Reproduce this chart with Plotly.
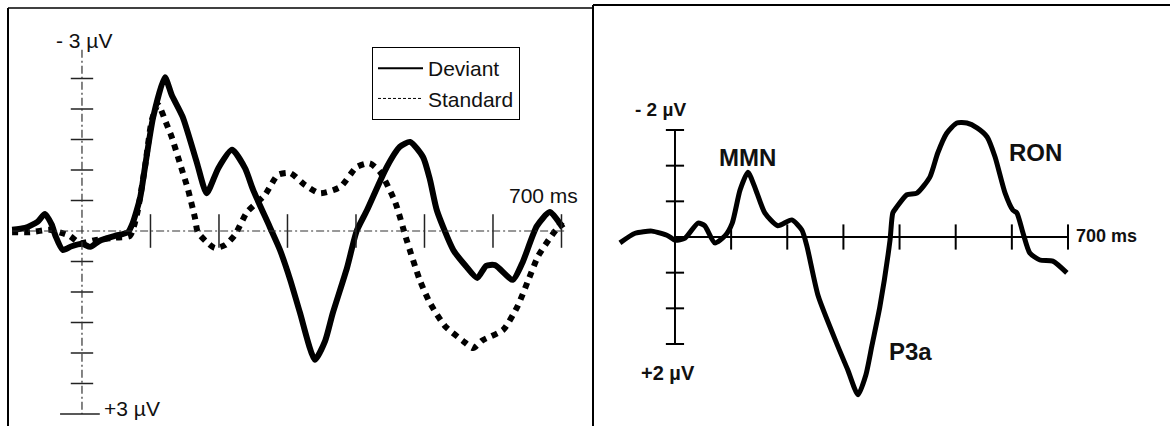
import plotly.graph_objects as go

# ---------------- data (time in ms, amplitude in µV; negative plotted upward) ----------------
dev_t = [-102, -83, -65, -54, -44, -39, -28, -15, 0, 12, 26, 48, 67, 74, 85, 92, 104, 121, 131, 147,
         168, 182, 199, 219, 238, 250, 274, 289, 304, 318, 340, 355, 366, 387, 401, 416, 445, 464, 479,
         498, 508, 518, 542, 560, 577, 590, 603, 629, 643, 664, 683, 702]
dev_v = [-0.02, -0.05, -0.15, -0.28, -0.10, 0.07, 0.31, 0.25, 0.21, 0.26, 0.16, 0.08, 0.02, -0.13, -0.55,
         -1.05, -1.87, -2.52, -2.23, -1.87, -1.11, -0.62, -1.03, -1.33, -1.03, -0.67, -0.07, 0.31, 0.80,
         1.33, 2.11, 1.80, 1.35, 0.60, 0.00, -0.34, -1.05, -1.38, -1.46, -1.21, -0.84, -0.34, 0.31, 0.57,
         0.77, 0.57, 0.56, 0.80, 0.52, -0.08, -0.31, -0.05]

std_t = [-102, -76, -47, -30, -18, -3, 19, 48, 70, 80, 92, 102, 111, 124, 131, 143, 155, 165, 169, 182,
         194, 209, 223, 241, 267, 286, 304, 326, 347, 377, 401, 420, 435, 457, 474, 493, 508, 530, 556,
         571, 585, 615, 636, 651, 666, 686, 701]
std_v = [0.02, 0.02, -0.02, 0.03, 0.08, 0.20, 0.15, 0.11, 0.08, -0.26, -1.05, -1.82, -2.07, -1.74, -1.54,
         -1.11, -0.67, -0.21, 0.02, 0.18, 0.28, 0.23, 0.07, -0.31, -0.59, -0.92, -0.95, -0.75, -0.62, -0.72,
         -1.05, -1.11, -0.97, -0.48, 0.15, 0.80, 1.18, 1.56, 1.80, 1.92, 1.79, 1.62, 1.23, 0.82, 0.41, 0.07,
         -0.15]

diff_t = [-98, -71, -41, -12, 0, 18, 41, 53, 71, 89, 102, 116, 130, 144, 160, 183, 208, 226, 235, 255,
          290, 308, 326, 340, 351, 365, 383, 388, 395, 413, 431, 454, 468, 484, 502, 520, 538, 556, 570,
          588, 602, 609, 620, 632, 650, 673, 698]
diff_v = [0.11, -0.07, -0.11, -0.02, 0.06, 0.02, -0.26, -0.21, 0.11, -0.02, -0.26, -0.88, -1.21, -0.88,
          -0.45, -0.21, -0.32, -0.13, 0.17, 1.10, 2.04, 2.49, 2.95, 2.58, 2.02, 1.30, 0.06, -0.45, -0.56,
          -0.79, -0.82, -1.12, -1.57, -1.94, -2.13, -2.13, -2.04, -1.87, -1.50, -0.82, -0.50, -0.45, -0.07,
          0.30, 0.43, 0.45, 0.67]

left_xticks = [100, 200, 300, 400, 500, 600, 700]
left_yticks = [-2.5, -2.0, -1.5, -1.0, -0.5, 0.5, 1.0, 1.5, 2.0, 2.5]
right_xticks = [100, 200, 300, 400, 500, 600, 700]
right_yticks = [-2.0, -4 / 3, -2 / 3, 2 / 3, 4 / 3, 2.0]

W, H = 1170, 426
FONT = "Liberation Sans, Arial, sans-serif"


def px(x):
    return x / W


def py(y):
    return 1 - y / H


fig = go.Figure()

# ---- left panel ----
fig.add_trace(go.Scatter(x=dev_t, y=dev_v, mode="lines", line=dict(color="black", width=6, shape="spline", smoothing=0.6),
                         showlegend=False, xaxis="x", yaxis="y", hoverinfo="skip"))
fig.add_trace(go.Scatter(x=std_t, y=std_v, mode="lines", line=dict(color="black", width=6, dash="6px,6px", shape="spline", smoothing=0.6),
                         showlegend=False, xaxis="x", yaxis="y", hoverinfo="skip"))
# legend entries (thin samples as in the original)
fig.add_trace(go.Scatter(x=[None], y=[None], mode="lines", name="Deviant", line=dict(color="black", width=2),
                         xaxis="x", yaxis="y"))
fig.add_trace(go.Scatter(x=[None], y=[None], mode="lines", name="Standard", line=dict(color="black", width=1, dash="3px,2px"),
                         xaxis="x", yaxis="y"))
# ticks
fig.add_trace(go.Scatter(x=left_xticks, y=[0] * len(left_xticks), mode="markers",
                         marker=dict(symbol="line-ns", size=24, line=dict(width=1.5, color="#222")),
                         showlegend=False, xaxis="x", yaxis="y", hoverinfo="skip"))
fig.add_trace(go.Scatter(x=[0] * len(left_yticks), y=left_yticks, mode="markers",
                         marker=dict(symbol="line-ew", size=16, line=dict(width=1.5, color="#222")),
                         showlegend=False, xaxis="x", yaxis="y", hoverinfo="skip"))

# ---- right panel ----
fig.add_trace(go.Scatter(x=diff_t, y=diff_v, mode="lines", line=dict(color="black", width=5, shape="spline", smoothing=0.6),
                         showlegend=False, xaxis="x2", yaxis="y2", hoverinfo="skip"))
fig.add_trace(go.Scatter(x=right_xticks, y=[0] * len(right_xticks), mode="markers",
                         marker=dict(symbol="line-ns", size=18, line=dict(width=2, color="black")),
                         showlegend=False, xaxis="x2", yaxis="y2", hoverinfo="skip"))
fig.add_trace(go.Scatter(x=[0] * len(right_yticks), y=right_yticks, mode="markers",
                         marker=dict(symbol="line-ew", size=13, line=dict(width=2, color="black")),
                         showlegend=False, xaxis="x2", yaxis="y2", hoverinfo="skip"))

shapes = [
    # panel frames
    dict(type="line", xref="paper", yref="paper", x0=px(8), x1=px(8), y0=py(8), y1=0, line=dict(color="black", width=2)),
    dict(type="line", xref="paper", yref="paper", x0=px(8), x1=px(593), y0=py(8), y1=py(8), line=dict(color="black", width=1.5)),
    dict(type="line", xref="paper", yref="paper", x0=px(593), x1=px(593), y0=py(5), y1=0, line=dict(color="black", width=2)),
    dict(type="line", xref="paper", yref="paper", x0=px(593), x1=1, y0=py(5), y1=py(5), line=dict(color="black", width=2)),
    # left axes (dashed)
    dict(type="line", xref="x", yref="y", x0=-102, x1=705, y0=0, y1=0, line=dict(color="#333", width=1.2, dash="8px,3px,2px,3px")),
    dict(type="line", xref="x", yref="y", x0=0, x1=0, y0=-2.97, y1=3.0, line=dict(color="#333", width=1.2, dash="8px,3px,2px,3px")),
    dict(type="line", xref="x", yref="y", x0=-32, x1=26, y0=3.0, y1=3.0, line=dict(color="#222", width=1.5)),
    # right axes (solid)
    dict(type="line", xref="x2", yref="y2", x0=0, x1=700, y0=0, y1=0, line=dict(color="black", width=2)),
    dict(type="line", xref="x2", yref="y2", x0=0, x1=0, y0=-2, y1=2, line=dict(color="black", width=2)),
]

ann_left = dict(font=dict(family=FONT, size=21, color="#111"), showarrow=False, xref="paper", yref="paper")
ann_right = dict(font=dict(family=FONT, size=24, color="#111"), showarrow=False, xref="paper", yref="paper")
annotations = [
    dict(text="- 3 µV", x=px(84), y=py(40), xanchor="center", yanchor="middle", **ann_left),
    dict(text="+3 µV", x=px(102), y=py(408), xanchor="left", yanchor="middle", **ann_left),
    dict(text="700 ms", x=px(543), y=py(195), xanchor="center", yanchor="middle", **ann_left),
    dict(text="<b>- 2 µV</b>", x=px(660), y=py(110), xanchor="center", yanchor="middle",
         font=dict(family=FONT, size=19, color="#111"), showarrow=False, xref="paper", yref="paper"),
    dict(text="<b>+2 µV</b>", x=px(668), y=py(373), xanchor="center", yanchor="middle",
         font=dict(family=FONT, size=20, color="#111"), showarrow=False, xref="paper", yref="paper"),
    dict(text="<b>700 ms</b>", x=px(1074), y=py(236), xanchor="left", yanchor="middle",
         font=dict(family=FONT, size=18, color="#111"), showarrow=False, xref="paper", yref="paper"),
    dict(text="<b>MMN</b>", x=px(748), y=py(157), xanchor="center", yanchor="middle", **ann_right),
    dict(text="<b>RON</b>", x=px(1035), y=py(152), xanchor="center", yanchor="middle", **ann_right),
    dict(text="<b>P3a</b>", x=px(910), y=py(351), xanchor="center", yanchor="middle", **ann_right),
]

ax_common = dict(visible=False, showgrid=False, zeroline=False, fixedrange=True)
fig.update_layout(
    width=W, height=H,
    margin=dict(l=0, r=0, t=0, b=0),
    paper_bgcolor="white", plot_bgcolor="white",
    xaxis=dict(domain=[px(8), px(593)], range=[-108, 746], anchor="y", **ax_common),
    yaxis=dict(domain=[0, py(8)], range=[(426 - 231) / 61, (8 - 231) / 61], anchor="x", **ax_common),
    xaxis2=dict(domain=[px(593), 1], range=[-146, 881.7], anchor="y2", **ax_common),
    yaxis2=dict(domain=[0, py(5)], range=[(426 - 237) / 53.5, (5 - 237) / 53.5], anchor="x2", **ax_common),
    shapes=shapes,
    annotations=annotations,
    showlegend=True,
    legend=dict(x=px(372), y=py(47), xanchor="left", yanchor="top", bgcolor="white",
                bordercolor="black", borderwidth=1, font=dict(family=FONT, size=21, color="#111"),
                itemwidth=45, tracegroupgap=0),
)

fig.write_html("out.html")
